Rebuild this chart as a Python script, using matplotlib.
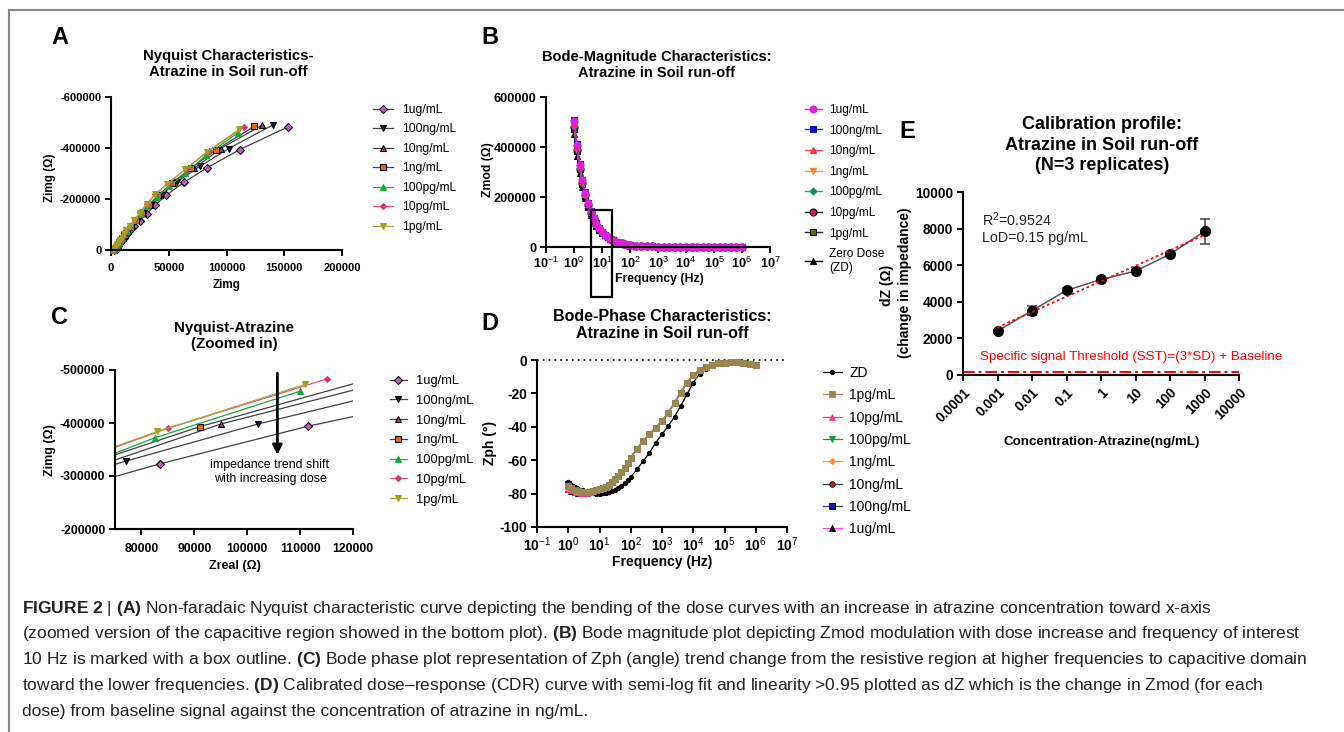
import numpy as np
import matplotlib
matplotlib.use("Agg")
import matplotlib.pyplot as plt
from matplotlib.lines import Line2D
from matplotlib.patches import Rectangle
from matplotlib.ticker import NullLocator

plt.rcParams["font.family"] = ["Liberation Sans", "DejaVu Sans"]
plt.rcParams["axes.unicode_minus"] = False
plt.rcParams["mathtext.fontset"] = "custom"
plt.rcParams["mathtext.rm"] = "Liberation Sans"
plt.rcParams["mathtext.bf"] = "Liberation Sans:bold"
plt.rcParams["mathtext.it"] = "Liberation Sans:italic"

# ---------------- Nyquist data (panels A and C) ----------------
doses = ["1ug/mL", "100ng/mL", "10ng/mL", "1ng/mL", "100pg/mL", "10pg/mL", "1pg/mL"]
zreal = {
    "1ug/mL":   [3000, 4000, 5000, 6000, 7000, 8000, 9500, 11000, 13000, 16000, 20000, 25000, 31000, 38000, 48000, 63000, 83500, 111500, 153000],
    "100ng/mL": [2500, 3500, 4500, 5500, 6500, 7500, 9000, 10500, 12500, 15000, 18500, 23000, 28500, 35000, 44000, 57000, 77000, 102000, 140000],
    "10ng/mL":  [2300, 3300, 4300, 5200, 6200, 7200, 8600, 10000, 12000, 14500, 18000, 22000, 27500, 33500, 42000, 54000, 72000, 95000, 131000],
    "1ng/mL":   [2200, 3200, 4100, 5000, 6000, 7000, 8300, 9700, 11600, 14000, 17400, 21500, 26800, 32500, 41000, 52500, 69000, 91000, 124000],
    "100pg/mL": [2000, 3000, 3900, 4800, 5700, 6700, 8000, 9400, 11200, 13500, 16800, 20800, 26000, 31500, 39500, 50500, 64500, 82500, 110000],
    "10pg/mL":  [2000, 2900, 3800, 4700, 5600, 6600, 7800, 9200, 11000, 13200, 16500, 20500, 25500, 31000, 38500, 49000, 65000, 85000, 115000],
    "1pg/mL":   [2000, 2900, 3800, 4700, 5600, 6600, 7800, 9100, 10900, 13100, 16300, 20300, 25300, 30800, 38200, 48500, 64000, 83000, 111000],
}
zimg = {
    "1ug/mL":   [0, -3000, -8000, -15000, -22000, -30000, -38000, -48000, -60000, -75000, -93000, -115000, -143000, -175000, -215000, -265000, -323000, -394000, -482000],
    "100ng/mL": [0, -3000, -8000, -15000, -22000, -30000, -39000, -49000, -61000, -76000, -95000, -117000, -145000, -177000, -217000, -267000, -328000, -398000, -490000],
    "10ng/mL":  [0, -3000, -8000, -15000, -22000, -31000, -39000, -49000, -61000, -76000, -95000, -117000, -145000, -177000, -216000, -264000, -320000, -398000, -490000],
    "1ng/mL":   [0, -3000, -8000, -15000, -22000, -31000, -39000, -49000, -61000, -76000, -95000, -117000, -145000, -176000, -214000, -262000, -320000, -393000, -485000],
    "100pg/mL": [0, -3000, -8000, -15000, -22000, -31000, -39000, -49000, -61000, -76000, -94000, -116000, -143000, -174000, -209000, -250000, -302000, -372000, -460000],
    "10pg/mL":  [0, -3000, -8000, -15000, -22000, -31000, -39000, -49000, -61000, -77000, -96000, -119000, -148000, -181000, -219000, -260000, -318000, -390000, -483000],
    "1pg/mL":   [0, -3000, -8000, -15000, -22000, -31000, -39000, -49000, -61000, -77000, -96000, -118000, -147000, -180000, -218000, -258000, -316000, -384000, -473000],
}

# ---------------- Bode data (panels B and D) ----------------
freq = [1, 1.259, 1.585, 1.995, 2.512, 3.162, 3.981, 5.012, 6.310, 7.943, 10,
        12.59, 15.85, 19.95, 25.12, 31.62, 39.81, 50.12, 63.10, 79.43, 100,
        158.5, 251.2, 398.1, 631.0, 1000, 1585, 2512, 3981, 6310, 1e4,
        1.585e4, 2.512e4, 3.981e4, 6.310e4, 1e5, 1.585e5, 2.512e5, 3.981e5, 6.310e5, 1e6]

bode_doses = ["1ug/mL", "100ng/mL", "10ng/mL", "1ng/mL", "100pg/mL", "10pg/mL", "1pg/mL", "ZD"]
# Zmod, 1 Hz .. 10 Hz for each dose, then a common high-frequency part
zmod_head = {
    "1ug/mL":   [505000, 408000, 330000, 268000, 217000, 176000, 143000, 116000, 94000, 76000, 61500],
    "100ng/mL": [510000, 411000, 332000, 270000, 219000, 177000, 144000, 117000, 94500, 76500, 62000],
    "10ng/mL":  [497000, 402000, 325000, 264000, 214000, 173000, 141000, 114000, 92500, 75000, 61000],
    "1ng/mL":   [490000, 396000, 321000, 261000, 211000, 171000, 139000, 113000, 91500, 74500, 60500],
    "100pg/mL": [486000, 393000, 318000, 258000, 209000, 170000, 138000, 112000, 91000, 74000, 60000],
    "10pg/mL":  [480000, 388000, 314000, 255000, 207000, 168000, 137000, 111000, 90000, 73500, 59800],
    "1pg/mL":   [474000, 384000, 311000, 252000, 205000, 166000, 135000, 110000, 89500, 73000, 59500],
    "ZD":       [452000, 366000, 297000, 241000, 196000, 159000, 130000, 106000, 86000, 70000, 57500],
}
zmod_tail = [50000, 40500, 33000, 26800, 21800, 17800, 14500, 11900, 9800, 8100,
             5700, 4100, 3050, 2350, 1880, 1560, 1350, 1200, 1100, 1040,
             990, 960, 940, 925, 915, 905, 900, 895, 890, 885]

# Zph, 1 Hz .. 10 Hz for each dose, then a common part; ZD listed in full
zph_head = {
    "1ug/mL":   [-77.5, -78.3, -79.0, -79.5, -79.7, -79.7, -79.5, -79.2, -78.7, -78.2, -77.6],
    "100ng/mL": [-74.5, -76.2, -77.4, -78.2, -78.7, -79.0, -79.0, -78.8, -78.5, -78.0, -77.4],
    "10ng/mL":  [-75.0, -76.5, -77.6, -78.4, -78.8, -79.0, -79.0, -78.8, -78.5, -78.0, -77.4],
    "1ng/mL":   [-76.5, -77.5, -78.3, -78.8, -79.0, -79.0, -78.8, -78.5, -78.0, -77.4, -76.8],
    "100pg/mL": [-76.0, -77.2, -78.1, -78.7, -79.0, -79.1, -79.0, -78.8, -78.4, -77.9, -77.3],
    "10pg/mL":  [-77.0, -78.0, -78.8, -79.3, -79.6, -79.6, -79.4, -79.1, -78.6, -78.1, -77.5],
    "1pg/mL":   [-75.5, -76.8, -77.8, -78.5, -78.9, -79.0, -79.0, -78.8, -78.4, -77.9, -77.4],
}
zph_tail = [-76.8, -76.0, -74.8, -73.3, -71.5, -69.5, -67.2, -64.6, -61.8, -58.5,
            -53.0, -48.5, -44.5, -40.5, -36.5, -31.5, -25.5, -19.5, -13.5, -9.0,
            -6.0, -4.0, -2.8, -2.0, -1.5, -1.2, -1.2, -1.5, -2.2, -3.0]
zph_zd = [-73.0, -74.8, -76.2, -77.3, -78.2, -78.9, -79.4, -79.7, -79.9, -80.0, -80.0,
          -79.8, -79.5, -79.0, -78.4, -77.6, -76.6, -75.3, -73.8, -72.0, -70.0,
          -65.5, -60.5, -55.5, -49.5, -44.5, -39.5, -34.0, -27.5, -20.5, -13.5,
          -8.5, -5.5, -3.6, -2.5, -1.8, -1.4, -1.3, -1.4, -1.8, -2.3]

# ---------------- calibration (panel E) ----------------
conc = [0.001, 0.01, 0.1, 1, 10, 100, 1000]
dz = [2400, 3520, 4620, 5220, 5680, 6600, 7850]
dz_sd = [80, 250, 120, 80, 60, 80, 700]
sst = 180

caption = [
    r"$\mathbf{FIGURE\ 2}$ | $\mathbf{(A)}$ Non-faradaic Nyquist characteristic curve depicting the bending of the dose curves with an increase in atrazine concentration toward x-axis",
    r"(zoomed version of the capacitive region showed in the bottom plot). $\mathbf{(B)}$ Bode magnitude plot depicting Zmod modulation with dose increase and frequency of interest",
    r"10 Hz is marked with a box outline. $\mathbf{(C)}$ Bode phase plot representation of Zph (angle) trend change from the resistive region at higher frequencies to capacitive domain",
    r"toward the lower frequencies. $\mathbf{(D)}$ Calibrated dose–response (CDR) curve with semi-log fit and linearity >0.95 plotted as dZ which is the change in Zmod (for each",
    r"dose) from baseline signal against the concentration of atrazine in ng/mL.",
]

W, H = 1344, 732
fig = plt.figure(figsize=(W / 100, H / 100), dpi=100)


def add_ax(l, t, r, b):
    return fig.add_axes([l / W, 1 - b / H, (r - l) / W, (b - t) / H])


def ftext(x, y, s, **kw):
    return fig.text(x / W, 1 - y / H, s, **kw)


def style(ax, fs, xpad=3, ypad=2.5):
    for s in ["top", "right"]:
        ax.spines[s].set_visible(False)
    for s in ["left", "bottom"]:
        ax.spines[s].set_linewidth(1.5)
    ax.tick_params(length=4.5, width=1.4, labelsize=fs)
    ax.tick_params(axis="x", pad=xpad)
    ax.tick_params(axis="y", pad=ypad)
    plt.setp(ax.get_xticklabels() + ax.get_yticklabels(), fontweight="bold")


def legend_at(ax, handles, labels, x, y, fs, ls, hl, pad):
    ax.legend(handles, labels, loc="upper left", bbox_to_anchor=(x / W, 1 - y / H),
              bbox_transform=fig.transFigure, frameon=False, fontsize=fs,
              labelspacing=ls, handlelength=hl, handletextpad=pad,
              borderpad=0, borderaxespad=0)


ny_style = {
    "1ug/mL":   dict(marker="D", ms=3.6, mfc="#c45ac4", mec="k", color="#404040"),
    "100ng/mL": dict(marker="v", ms=4.6, mfc="#141450", mec="k", color="#404040"),
    "10ng/mL":  dict(marker="^", ms=4.6, mfc="#a0407a", mec="k", color="#404040"),
    "1ng/mL":   dict(marker="s", ms=4.2, mfc="#e8650f", mec="k", color="#404040"),
    "100pg/mL": dict(marker="^", ms=4.0, mfc="#17a83a", mec="#17a83a", color="#17a83a"),
    "10pg/mL":  dict(marker="D", ms=3.0, mfc="#e0306a", mec="#e0306a", color="#e8507a"),
    "1pg/mL":   dict(marker="v", ms=4.6, mfc="#a0a020", mec="#a0a020", color="#a8a830"),
}

# ---------------- panel A ----------------
axA = add_ax(111, 97, 342, 250)
linesA = []
for d in doses:
    ln, = axA.plot(zreal[d], zimg[d], lw=0.9, mew=0.8, clip_on=False, **ny_style[d])
    linesA.append(ln)
axA.set_xlim(0, 200000)
axA.set_ylim(0, -600000)
axA.set_xticks([0, 50000, 100000, 150000, 200000], ["0", "50000", "100000", "150000", "200000"])
axA.set_yticks([0, -200000, -400000, -600000], ["0", "-200000", "-400000", "-600000"])
style(axA, 8, xpad=5)
legend_at(axA, linesA, doses, 373, 104, 8.7, 0.62, 1.65, 0.8)
ftext(60, 38, "A", fontsize=17, fontweight="bold", ha="center", va="center")
ftext(228, 64, "Nyquist Characteristics-\nAtrazine in Soil run-off", fontsize=10.7,
      fontweight="bold", ha="center", va="center", linespacing=1.25)
ftext(50, 178, "Zimg (Ω)", fontsize=8.4, fontweight="bold", rotation=90, ha="center", va="center")
ftext(227, 285, "Zimg", fontsize=8.4, fontweight="bold", ha="center", va="center")

# ---------------- panel B ----------------
b_style = {
    "1ug/mL":   dict(marker="o", ms=5, color="#e020d8", mfc="#e020d8", mec="#e020d8"),
    "100ng/mL": dict(marker="s", ms=5, color="#2a2ad8", mfc="#1010c0", mec="#1010c0"),
    "10ng/mL":  dict(marker="^", ms=5, color="#ff5050", mfc="#ff3030", mec="#ff3030"),
    "1ng/mL":   dict(marker="v", ms=5, color="#ff9040", mfc="#ff8020", mec="#ff8020"),
    "100pg/mL": dict(marker="D", ms=3.5, color="#30a080", mfc="#1a8a60", mec="#1a8a60"),
    "10pg/mL":  dict(marker="o", ms=5, color="#222222", mfc="#d02050", mec="k"),
    "1pg/mL":   dict(marker="s", ms=5, color="#222222", mfc="#6a6a00", mec="k"),
    "ZD":       dict(marker="^", ms=5, color="k", mfc="k", mec="k"),
}
axB = add_ax(546, 97, 770, 247)
linesB = {}
for d in bode_doses[::-1]:
    ln, = axB.plot(freq, zmod_head[d] + zmod_tail, lw=1, mew=0.8, clip_on=False, **b_style[d])
    linesB[d] = ln
axB.set_xscale("log")
axB.set_xlim(0.1, 1e7)
axB.set_ylim(0, 600000)
axB.set_xticks([10.0 ** k for k in range(-1, 8)], ["10$^{%d}$" % k for k in range(-1, 8)])
axB.xaxis.set_minor_locator(NullLocator())
axB.set_yticks([0, 200000, 400000, 600000], ["0", "200000", "400000", "600000"])
style(axB, 9.2, xpad=1.5)
axB.add_patch(Rectangle((4.0, -200000), 22.7 - 4.0, 348000, fill=False, lw=1.6,
                        ec="k", clip_on=False, zorder=5))
labB = ["1ug/mL", "100ng/mL", "10ng/mL", "1ng/mL", "100pg/mL", "10pg/mL", "1pg/mL", "Zero Dose\n(ZD)"]
legend_at(axB, [linesB[d] for d in bode_doses], labB, 805, 104, 8.6, 0.72, 1.4, 0.65)
ftext(490, 38, "B", fontsize=17, fontweight="bold", ha="center", va="center")
ftext(657, 65, "Bode-Magnitude Characteristics:\nAtrazine in Soil run-off", fontsize=10.5,
      fontweight="bold", ha="center", va="center", linespacing=1.25)
ftext(488, 170, "Zmod (Ω)", fontsize=8.8, fontweight="bold", rotation=90, ha="center", va="center")
ftext(659, 279, "Frequency (Hz)", fontsize=8.8, fontweight="bold", ha="center", va="center")

# ---------------- panel C ----------------
axC = add_ax(115, 370, 353, 529)
linesC = []
for d in doses:
    ln, = axC.plot(zreal[d], zimg[d], lw=0.9, mew=0.8, **ny_style[d])
    linesC.append(ln)
axC.set_xlim(75000, 120000)
axC.set_ylim(-200000, -500000)
axC.set_xticks([80000, 90000, 100000, 110000, 120000],
               ["80000", "90000", "100000", "110000", "120000"])
axC.set_yticks([-200000, -300000, -400000, -500000], ["-200000", "-300000", "-400000", "-500000"])
style(axC, 8.8, xpad=5.5)
axC.annotate("", xy=(105700, -340000), xytext=(105700, -494000),
             arrowprops=dict(arrowstyle="-|>", lw=2, color="k", mutation_scale=14,
                             shrinkA=0, shrinkB=0))
axC.text(104300, -307000, "impedance trend shift\nwith increasing dose", fontsize=8.9,
         ha="center", va="center", linespacing=1.2)
legend_at(axC, linesC, doses, 390, 375, 9.3, 0.6, 1.3, 0.75)
ftext(60, 318, "C", fontsize=17, fontweight="bold", ha="center", va="center")
ftext(234, 336, "Nyquist-Atrazine\n(Zoomed in)", fontsize=10.9, fontweight="bold",
      ha="center", va="center", linespacing=1.25)
ftext(50, 450, "Zimg (Ω)", fontsize=9, fontweight="bold", rotation=90, ha="center", va="center")
ftext(235, 566, "Zreal (Ω)", fontsize=9, fontweight="bold", ha="center", va="center")

# ---------------- panel D ----------------
d_order = ["ZD", "1pg/mL", "10pg/mL", "100pg/mL", "1ng/mL", "10ng/mL", "100ng/mL", "1ug/mL"]
d_style = {
    "ZD":       dict(marker="o", ms=3.2, color="k", mfc="k", mec="k"),
    "1pg/mL":   dict(marker="s", ms=4.2, color="#a08c5a", mfc="#9c8650", mec="#9c8650"),
    "10pg/mL":  dict(marker="^", ms=4.2, color="#ff3399", mfc="#ff3399", mec="#ff3399"),
    "100pg/mL": dict(marker="v", ms=4.2, color="#10a030", mfc="#10a030", mec="#10a030"),
    "1ng/mL":   dict(marker="D", ms=3.0, color="#ff9a30", mfc="#ff9020", mec="#ff9020"),
    "10ng/mL":  dict(marker="o", ms=4.0, color="#444444", mfc="#c02020", mec="k"),
    "100ng/mL": dict(marker="s", ms=4.0, color="#444444", mfc="#1a1aa0", mec="k"),
    "1ug/mL":   dict(marker="^", ms=4.0, color="#ff40ff", mfc="k", mec="k"),
}
axD = add_ax(537, 360, 787, 527)
linesD = {}
for d in ["ZD", "1ug/mL", "100ng/mL", "10ng/mL", "10pg/mL", "1ng/mL", "100pg/mL", "1pg/mL"]:
    ph = zph_zd if d == "ZD" else zph_head[d] + zph_tail
    ln, = axD.plot(freq, ph, lw=0.9, mew=0.6, clip_on=False, **d_style[d])
    linesD[d] = ln
axD.axhline(0, color="k", ls=(0, (1, 2.5)), lw=1.2, clip_on=False, zorder=0)
axD.set_xscale("log")
axD.set_xlim(0.1, 1e7)
axD.set_ylim(-100, 0)
axD.set_xticks([10.0 ** k for k in range(-1, 8)], ["10$^{%d}$" % k for k in range(-1, 8)])
axD.xaxis.set_minor_locator(NullLocator())
axD.set_yticks([0, -20, -40, -60, -80, -100], ["0", "-20", "-40", "-60", "-80", "-100"])
style(axD, 10, xpad=1.5)
labD = ["ZD", "1pg/mL", "10pg/mL", "100pg/mL", "1ng/mL", "10ng/mL", "100ng/mL", "1ug/mL"]
legend_at(axD, [linesD[d] for d in d_order], labD, 823, 366, 10, 0.6, 1.35, 0.55)
ftext(490, 323, "D", fontsize=17, fontweight="bold", ha="center", va="center")
ftext(662, 325, "Bode-Phase Characteristics:\nAtrazine in Soil run-off", fontsize=11.5,
      fontweight="bold", ha="center", va="center", linespacing=1.2)
ftext(490, 443, "Zph (°)", fontsize=10, fontweight="bold", rotation=90, ha="center", va="center")
ftext(662, 562, "Frequency (Hz)", fontsize=10, fontweight="bold", ha="center", va="center")

# ---------------- panel E ----------------
axE = add_ax(963, 192, 1239, 375)
coef = np.polyfit(np.log10(conc), dz, 1)
xfit = np.array([conc[0], conc[-1]])
axE.plot(xfit, np.polyval(coef, np.log10(xfit)), color="red", ls=(0, (1.5, 1.5)), lw=1.3, zorder=4)
axE.plot(conc, dz, color="#555555", lw=1.1, zorder=2)
axE.errorbar(conc, dz, yerr=dz_sd, fmt="o", color="k", ms=7, ecolor="#444444",
             elinewidth=1.1, capsize=3.5, capthick=1.1, zorder=3)
axE.axhline(sst, color="red", ls=(0, (6, 2, 1.5, 2)), lw=1.4)
axE.text(3.1e-4, 990, "Specific signal Threshold (SST)=(3*SD) + Baseline", color="red",
         fontsize=9.6, ha="left", va="center", clip_on=False)
axE.text(3.5e-4, 8050, "R$^{2}$=0.9524\nLoD=0.15 pg/mL", fontsize=10.3, ha="left",
         va="center", color="#222222", linespacing=1.25)
axE.set_xscale("log")
axE.set_xlim(1e-4, 1e4)
axE.set_ylim(0, 10000)
axE.set_xticks([10.0 ** k for k in range(-4, 5)],
               ["0.0001", "0.001", "0.01", "0.1", "1", "10", "100", "1000", "10000"])
axE.xaxis.set_minor_locator(NullLocator())
axE.set_yticks([0, 2000, 4000, 6000, 8000, 10000], ["0", "2000", "4000", "6000", "8000", "10000"])
style(axE, 9.9)
plt.setp(axE.get_xticklabels(), rotation=45, ha="right", rotation_mode="anchor")
ftext(907, 132, "E", fontsize=17, fontweight="bold", ha="center", va="center")
ftext(1102, 145, "Calibration profile:\nAtrazine in Soil run-off\n(N=3 replicates)", fontsize=13,
      fontweight="bold", ha="center", va="center", linespacing=1.28)
ftext(887, 285, "dZ (Ω)", fontsize=10, fontweight="bold", rotation=90, ha="center", va="center")
ftext(905, 283, "(change in impedance)", fontsize=10, fontweight="bold", rotation=90,
      ha="center", va="center")
ftext(1102, 442, "Concentration-Atrazine(ng/mL)", fontsize=9.6, fontweight="bold",
      ha="center", va="center")

# ---------------- caption and frame ----------------
for i, line in enumerate(caption):
    ftext(22, 608 + i * 25.8, line, fontsize=12.55, ha="left", va="center", color="#222222")

fig.add_artist(Line2D([9 / W, 9 / W], [0, 1 - 10 / H], color="#888888", lw=1.5))
fig.add_artist(Line2D([9 / W, 1], [1 - 10 / H, 1 - 10 / H], color="#888888", lw=1.5))

fig.savefig("out.png", dpi=100)
